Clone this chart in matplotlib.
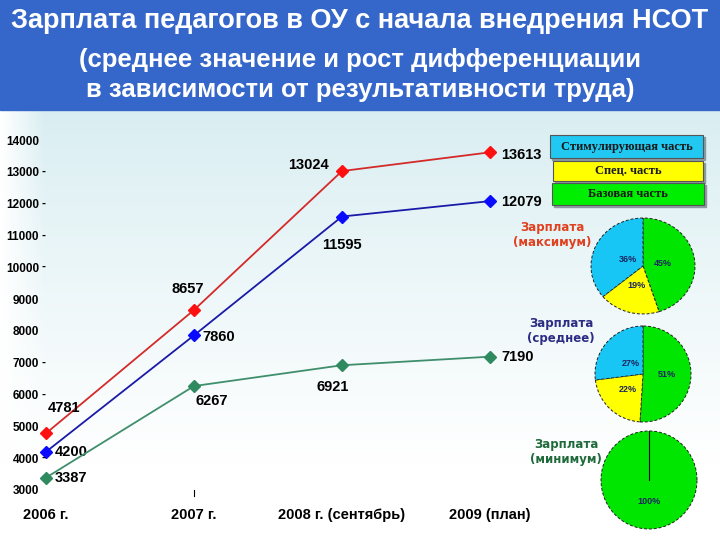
import numpy as np
import matplotlib
matplotlib.use("Agg")
from matplotlib import pyplot as plt
from matplotlib.patches import Rectangle

# data
years = ["2006 г.", "2007 г.", "2008 г. (сентябрь)", "2009 (план)"]
salary_max = [4781, 8657, 13024, 13613]
salary_avg = [4200, 7860, 11595, 12079]
salary_min = [3387, 6267, 6921, 7190]

y_ticks = [14000, 13000, 12000, 11000, 10000, 9000, 8000, 7000, 6000, 5000, 4000, 3000]
y_dash = [False, True, True, True, True, False, False, True, True, False, True, False]

parts = ["Стимулирующая часть", "Спец. часть", "Базовая часть"]
pie_max = [45, 19, 36]   # base, special, stimulating (clockwise from top)
pie_avg = [51, 22, 27]
pie_min = [100]

title = ["Зарплата педагогов в ОУ с начала внедрения НСОТ",
         "(среднее значение и рост дифференциации",
         "в зависимости от результативности труда)"]

W, H = 720, 540


def fx(px):
    return px / W


def fy(py):
    return 1 - py / H


plt.rcParams["font.family"] = ["Liberation Sans", "DejaVu Sans"]
fig = plt.figure(figsize=(7.2, 5.4), dpi=100)

# background gradient under the header
bg = fig.add_axes([0, 0, 1, 1], zorder=-5)
rows = np.linspace(0, 1, 200)[:, None]
cols = np.linspace(0, 1, 300)[None, :]
top = np.array([0.850, 0.932, 0.948])
t = np.clip(rows / 0.82, 0, 1) ** 0.9
edge = np.clip(cols / 0.06, 0, 1)
mix = (1 - t) * edge
img = 1 - mix[..., None] * (1 - top)
bg.imshow(img, extent=[0, 1, 0, fy(110)], aspect="auto", origin="upper")
bg.set_xlim(0, 1)
bg.set_ylim(0, 1)
bg.axis("off")

# header
fig.patches.append(Rectangle((0, fy(110)), 1, 110 / H, transform=fig.transFigure,
                             color="#3566c9", zorder=0))
fig.text(0.5, fy(21), title[0], ha="center", va="center", color="white",
         fontsize=19.5, fontweight="bold")
fig.text(0.5, fy(60), title[1], ha="center", va="center", color="white",
         fontsize=18.5, fontweight="bold")
fig.text(0.5, fy(90), title[2], ha="center", va="center", color="white",
         fontsize=18.5, fontweight="bold")

# line chart
ax = fig.add_axes([fx(46), fy(490), (490 - 46) / W, (490 - 140) / H])
ax.patch.set_alpha(0)
for s in ax.spines.values():
    s.set_visible(False)
ax.set_xlim(0, 3)
ax.set_ylim(3000, 14000)

x = np.arange(len(years))
series = [
    (salary_max, "#d42a2a", "#ff1010",
     [(2, 25, "left"), (-6, 21, "center"), (-13, 6, "right"), (11, -3, "left")]),
    (salary_avg, "#1a1aa8", "#0a0aff",
     [(9, 0, "left"), (8, -2, "left"), (0, -28, "center"), (11, -1, "left")]),
    (salary_min, "#3f8f6c", "#2f8a60",
     [(9, 0, "left"), (2, -15, "left"), (-9, -22, "center"), (11, 0, "left")]),
]
for vals, lc, mc, offs in series:
    ax.plot(x, vals, color=lc, lw=1.3, marker="D", markersize=6,
            markerfacecolor=mc, markeredgecolor=mc, clip_on=False, zorder=3)
    for xi, v, (dx, dy, ha) in zip(x, vals, offs):
        ax.annotate(str(v), xy=(xi, v), xytext=(dx, dy), textcoords="offset pixels",
                    ha=ha, va="center", fontsize=10.5, fontweight="bold", color="black")

ax.set_yticks(y_ticks)
ax.set_yticklabels([str(v) for v in y_ticks], fontsize=8.5, fontweight="bold")
ax.tick_params(axis="y", length=0, pad=5)
for v, d in zip(y_ticks, y_dash):
    if d:
        ax.annotate("-", xy=(0, v), xycoords=ax.get_yaxis_transform(), xytext=(-2, 0),
                    textcoords="offset pixels", ha="center", va="center",
                    fontsize=8.5, fontweight="bold")

ax.set_xticks(x)
ax.set_xticklabels(years, fontsize=10.5, fontweight="bold")
ax.tick_params(axis="x", length=0, pad=13)
ax.axvline(1, ymin=-0.017, ymax=0, color="black", lw=0.8, clip_on=False)

# legend boxes
boxes = [(550, 135, 153, 23, "#20c8f2"), (553, 161, 150, 20, "#ffff00"),
         (552, 183, 152, 22, "#00ee00")]
for (bx, by, bw, bh, c), label in zip(boxes, parts):
    fig.patches.append(Rectangle((fx(bx + 2), fy(by + bh + 2)), bw / W, bh / H,
                                 transform=fig.transFigure, color="#8a9aa0", zorder=1))
    fig.patches.append(Rectangle((fx(bx), fy(by + bh)), bw / W, bh / H,
                                 transform=fig.transFigure, facecolor=c,
                                 edgecolor="#555555", lw=0.8, zorder=2))
    fig.text(fx(bx + bw / 2), fy(by + bh / 2), label, ha="center", va="center",
             family="Liberation Serif", fontweight="bold", fontsize=9,
             color="#1a1a1a", zorder=3)

# pie charts
pie_colors = ["#00e600", "#ffff00", "#18c6f6"]
pies = [
    (pie_max, 643, 266, 52, 48, [0.38, 0.42, 0.33], "Зарплата\n(максимум)", 552, 235, "#e0401e"),
    (pie_avg, 643, 374, 48, 48, [0.5, 0.45, 0.33], "Зарплата\n(среднее)", 561, 331, "#2c2c84"),
    (pie_min, 649, 480, 48, 49, [0.43], "Зарплата\n(минимум)", 566, 452, "#1f6a3a"),
]
for vals, cx, cy, rx, ry, pdist, name, tx, ty, tc in pies:
    pax = fig.add_axes([fx(cx - rx), fy(cy + ry), 2 * rx / W, 2 * ry / H])
    wedges, _, autotexts = pax.pie(
        vals, colors=pie_colors[:len(vals)], startangle=90, counterclock=False,
        autopct="%d%%", pctdistance=0.4,
        wedgeprops=dict(edgecolor="#222222", linestyle=(0, (3, 2)), linewidth=0.7))
    for at, pd_, w in zip(autotexts, pdist, wedges):
        ang = np.deg2rad((w.theta1 + w.theta2) / 2)
        at.set_position((pd_ * np.cos(ang), pd_ * np.sin(ang)))
        at.set_fontsize(6.5)
        at.set_fontweight("bold")
        at.set_color("#1c2660")
    if len(vals) == 1:
        pax.plot([0, 0], [0, 1], color="black", lw=0.8)
    pax.set_xlim(-1, 1)
    pax.set_ylim(-1, 1)
    pax.set_aspect("auto")
    pax.axis("off")
    fig.text(fx(tx), fy(ty), name, ha="center", va="center", color=tc,
             family="DejaVu Sans", fontweight="bold", fontsize=8.5, linespacing=1.15)

fig.savefig("out.png", dpi=100)
